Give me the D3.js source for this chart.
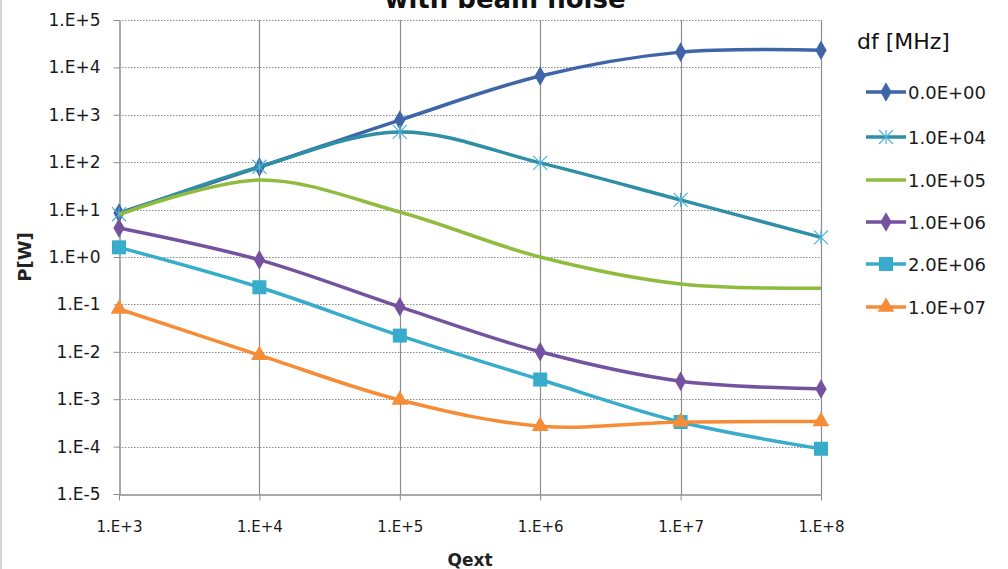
<!DOCTYPE html>
<html>
<head>
<meta charset="utf-8">
<script src="https://cdn.jsdelivr.net/npm/d3@7"></script>
<style>
  body { margin: 0; background: #fff; }
  svg { font-family: "DejaVu Sans", sans-serif; }
  .axis text { font-family: "DejaVu Sans", sans-serif; fill: #1a1a1a; }
  .yaxis text { font-size: 17px; }
  .xaxis text { font-size: 15px; }
</style>
</head>
<body>
<div id="chart"></div>
<script>
// Data
const qext = [1e3, 1e4, 1e5, 1e6, 1e7, 1e8];
const xTickLabels = ["1.E+3", "1.E+4", "1.E+5", "1.E+6", "1.E+7", "1.E+8"];
const yTicks = [1e5, 1e4, 1e3, 1e2, 1e1, 1e0, 1e-1, 1e-2, 1e-3, 1e-4, 1e-5];
const yTickLabels = ["1.E+5", "1.E+4", "1.E+3", "1.E+2", "1.E+1", "1.E+0", "1.E-1", "1.E-2", "1.E-3", "1.E-4", "1.E-5"];
const seriesNames = ["0.0E+00", "1.0E+04", "1.0E+05", "1.0E+06", "2.0E+06", "1.0E+07"];
const df0 = [8.5, 79, 775, 6600, 21000, 23000];
const df1e4 = [8, 80, 435, 97, 16, 2.6];
const df1e5 = [7.8, 42, 8.9, 1.0, 0.27, 0.22];
const df1e6 = [4.1, 0.87, 0.089, 0.010, 0.0024, 0.00165];
const df2e6 = [1.6, 0.23, 0.022, 0.0026, 0.00033, 0.00009];
const df1e7 = [0.08, 0.0085, 0.00096, 0.00027, 0.00033, 0.00034];

const seriesValues = [df0, df1e4, df1e5, df1e6, df2e6, df1e7];
const colors = ["#3F65A8", "#2F8FA6", "#8FBC3F", "#7552A0", "#37ADCB", "#F68D36"];
const markers = ["diamond", "asterisk", "none", "diamond", "square", "triangle"];

// Layout
const W = 1008, H = 569;
const x0 = 119, x1 = 821, y0 = 20, y1 = 494;

const svg = d3.select("#chart").append("svg")
  .attr("width", W).attr("height", H);

svg.append("rect").attr("width", W).attr("height", H).attr("fill", "#fff");
// chart border on the left
svg.append("line").attr("x1", 1).attr("x2", 1).attr("y1", 0).attr("y2", H)
  .attr("stroke", "#c8c8c8").attr("stroke-width", 1.5);

const x = d3.scaleLog().domain([1e3, 1e8]).range([x0, x1]);
const y = d3.scaleLog().domain([1e-5, 1e5]).range([y1, y0]);

// Horizontal dotted gridlines
svg.append("g").selectAll("line").data(yTicks.slice(0, -1)).join("line")
  .attr("x1", x0).attr("x2", x1)
  .attr("y1", d => Math.round(y(d)) + 0.5).attr("y2", d => Math.round(y(d)) + 0.5)
  .attr("stroke", "#8c8c8c").attr("stroke-dasharray", "1.5,1.5");

// Vertical gridlines
svg.append("g").selectAll("line").data(qext.slice(1)).join("line")
  .attr("x1", d => Math.round(x(d)) + 0.5).attr("x2", d => Math.round(x(d)) + 0.5)
  .attr("y1", y0).attr("y2", y1)
  .attr("stroke", "#8c8c8c").attr("stroke-width", 1.2);

// Y axis
const yAxis = svg.append("g").attr("class", "axis yaxis").attr("transform", `translate(${x0 + 0.5},0)`)
  .call(d3.axisLeft(y).tickValues(yTicks).tickFormat((d, i) => yTickLabels[i]).tickSize(6).tickSizeOuter(0).tickPadding(13));
yAxis.select(".domain").attr("stroke", "#8c8c8c").attr("stroke-width", 1.5);
yAxis.selectAll(".tick line").attr("stroke", "#8c8c8c");

// X axis
const xAxis = svg.append("g").attr("class", "axis xaxis").attr("transform", `translate(0,${y1 + 0.5})`)
  .call(d3.axisBottom(x).tickValues(qext).tickFormat((d, i) => xTickLabels[i]).tickSize(6).tickSizeOuter(0).tickPadding(21));
xAxis.select(".domain").attr("stroke", "#8c8c8c").attr("stroke-width", 1.5);
xAxis.selectAll(".tick line").attr("stroke", "#8c8c8c");

// Title (cut off at top, as in the original)
svg.append("text").attr("x", 505).attr("y", 8).attr("text-anchor", "middle")
  .attr("font-size", 26).attr("font-weight", "bold").attr("fill", "#111")
  .text("with beam noise");

// Axis titles
svg.append("text").attr("x", 470).attr("y", 566).attr("text-anchor", "middle")
  .attr("font-size", 17).attr("font-weight", "bold").attr("fill", "#222").text("Qext");
svg.append("text").attr("transform", "translate(31,257) rotate(-90)").attr("text-anchor", "middle")
  .attr("font-size", 18).attr("font-weight", "bold").attr("fill", "#222").text("P[W]");

// Lines
const line = d3.line().curve(d3.curveCatmullRom.alpha(0.5))
  .x(d => x(d[0])).y(d => y(d[1]));

function drawMarker(g, type, color) {
  if (type === "diamond") {
    g.append("path").attr("d", d3.symbol(d3.symbolDiamond, 110)()).attr("fill", color);
  } else if (type === "square") {
    g.append("rect").attr("x", -7).attr("y", -7).attr("width", 14).attr("height", 14).attr("fill", color);
  } else if (type === "triangle") {
    g.append("path").attr("d", d3.symbol(d3.symbolTriangle, 120)()).attr("fill", color);
  } else if (type === "asterisk") {
    g.append("path").attr("d", d3.symbol(d3.symbolTimes, 130)()).attr("fill", "none")
      .attr("stroke", "#4DB3D6").attr("stroke-width", 1.2);
    g.append("line").attr("x1", 0).attr("x2", 0).attr("y1", -7).attr("y2", 7)
      .attr("stroke", "#4DB3D6").attr("stroke-width", 1.2);
  }
}

seriesValues.forEach((vals, si) => {
  const pts = qext.map((q, i) => [q, vals[i]]);
  svg.append("path").datum(pts)
    .attr("fill", "none").attr("stroke", colors[si]).attr("stroke-width", 3.5)
    .attr("stroke-linejoin", "round").attr("d", line);
  const mg = svg.append("g");
  pts.forEach(p => {
    const g = mg.append("g").attr("transform", `translate(${x(p[0])},${y(p[1])})`);
    drawMarker(g, markers[si], colors[si]);
  });
});

// Legend
const legend = svg.append("g");
legend.append("text").attr("x", 857).attr("y", 49).attr("font-size", 22)
  .attr("fill", "#111").text("df [MHz]");
const legendY = [92, 137, 180, 222, 264, 307];
seriesNames.forEach((name, i) => {
  const g = legend.append("g").attr("transform", `translate(0,${legendY[i]})`);
  g.append("line").attr("x1", 866).attr("x2", 906).attr("y1", 0).attr("y2", 0)
    .attr("stroke", colors[i]).attr("stroke-width", 3.5);
  const mg = g.append("g").attr("transform", "translate(886,0)");
  drawMarker(mg, markers[i], colors[i]);
  g.append("text").attr("x", 908).attr("y", 7).attr("font-size", 18)
    .attr("fill", "#1a1a1a").text(name);
});
</script>
</body>
</html>
